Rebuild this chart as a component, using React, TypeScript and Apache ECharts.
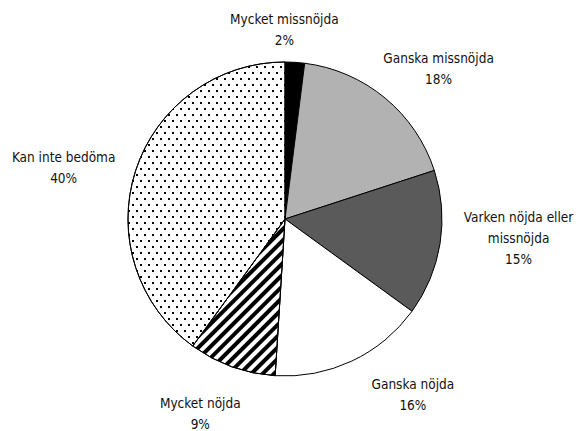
import React, { useEffect, useRef } from "react";
import * as echarts from "echarts";

const categories = [
  "Mycket missnöjda",
  "Ganska missnöjda",
  "Varken nöjda eller\nmissnöjda",
  "Ganska nöjda",
  "Mycket nöjda",
  "Kan inte bedöma",
];
const values = [2, 18, 15, 16, 9, 40];

const CX = 285;
const CY = 219;
const R = 157;
const LABEL_R = 197;
const labelDx = [-13, 28, 39, 44, -18, -34];
const labelDy = [7, 1, -12, -3, 9, 9];

const FONT = "'DejaVu Sans Condensed', 'DejaVu Sans', sans-serif";

export default function App() {
  const ref = useRef<HTMLDivElement>(null);
  useEffect(() => {
    if (!ref.current) return;
    const chart = echarts.init(ref.current, undefined, { renderer: "svg" });
    const total = values.reduce((a, b) => a + b, 0);
    const mids: number[] = [];
    let cum = 0;
    for (const v of values) {
      mids.push(((cum + v / 2) / total) * Math.PI * 2);
      cum += v;
    }
    const styles: any[] = [
      { color: "#000000" },
      { color: "#b2b2b2" },
      { color: "#5a5a5a" },
      { color: "#ffffff" },
      {
        color: "#ffffff",
        decal: {
          symbol: "rect",
          symbolSize: 1,
          color: "#000",
          dashArrayX: [1, 0],
          dashArrayY: [3.5, 4],
          rotation: -Math.PI / 4,
        },
      },
      {
        color: "#ffffff",
        decal: {
          symbol: "rect",
          symbolSize: 1,
          color: "#000",
          dashArrayX: [
            [2, 6],
            [0, 4, 2, 2],
          ],
          dashArrayY: [2, 3.8],
          rotation: 0,
        },
      },
    ];
    chart.setOption({
      animation: false,
      backgroundColor: "#ffffff",
      series: [
        {
          type: "pie",
          center: [CX, CY],
          radius: R,
          startAngle: 90,
          clockwise: true,
          avoidLabelOverlap: false,
          itemStyle: { borderColor: "#000", borderWidth: 1 },
          emphasis: { disabled: true },
          label: {
            show: true,
            position: "outside",
            formatter: "{b}\n{c}%",
            fontFamily: FONT,
            fontSize: 13.5,
            lineHeight: 21,
            color: "#111",
            align: "center",
          },
          labelLine: { show: false },
          labelLayout: (params: any) => {
            const i = params.dataIndex;
            const t = mids[i];
            return {
              x: CX + LABEL_R * Math.sin(t) + labelDx[i],
              y: CY - LABEL_R * Math.cos(t) + labelDy[i],
              align: "center",
              verticalAlign: "middle",
            };
          },
          data: categories.map((name, i) => ({
            name,
            value: values[i],
            itemStyle: styles[i],
          })),
        },
      ],
    });
    return () => chart.dispose();
  }, []);
  return (
    <div
      ref={ref}
      style={{ position: "fixed", left: 0, top: 0, width: 576, height: 431 }}
    />
  );
}
